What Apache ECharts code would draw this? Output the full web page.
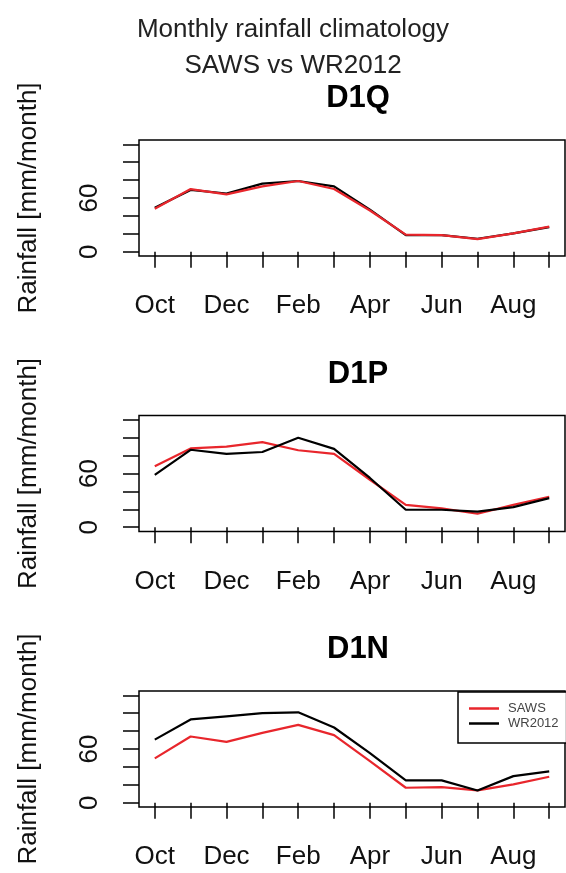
<!DOCTYPE html>
<html>
<head>
<meta charset="utf-8">
<script src="https://cdn.jsdelivr.net/npm/echarts@6/dist/echarts.min.js"></script>
<style>
html,body{margin:0;padding:0;background:#fff;}
#chart{width:566px;height:873px;}
</style>
</head>
<body>
<div id="chart"></div>
<script>
// ---- data ----
var months = ['Oct','Nov','Dec','Jan','Feb','Mar','Apr','May','Jun','Jul','Aug','Sep'];
var monthLabelIdx = [1,3,5,7,9,11];
var yTicks = [0,20,40,60,80,100,120];
var yLabels = [0,60];
var panelNames = ['D1Q','D1P','D1N'];

var sawsD1Q = [48, 70, 64, 73, 79, 70, 46, 19, 18.5, 14, 20.5, 28];
var wr2012D1Q = [49, 69, 65, 76, 79, 73, 47, 18.5, 18.5, 14.5, 20.5, 27.5];
var sawsD1P = [68, 88, 90, 95, 86, 82, 53, 25, 21, 15, 25, 34];
var wr2012D1P = [58.5, 86.5, 82, 84, 100, 87.5, 55, 19.5, 19.5, 17.5, 22.5, 32.5];
var sawsD1N = [49.5, 74, 68, 78, 87, 75.5, 46.5, 16.7, 17.4, 13.7, 20.4, 29];
var wr2012D1N = [70.5, 93, 96.5, 100, 101, 84, 55.5, 25, 25, 13.7, 29.7, 35];

var sawsAll = [sawsD1Q, sawsD1P, sawsD1N];
var wrAll = [wr2012D1Q, wr2012D1P, wr2012D1N];

// ---- layout ----
var font = "'Liberation Sans', Arial, Helvetica, sans-serif";
var gridTops = [140, 415.5, 691];
var gridLeft = 139, gridWidth = 426, gridHeight = 116;
var redCol = '#e8262c';

function pairs(arr){ return arr.map(function(v,i){ return [i+1, v]; }); }

var grids = [], xAxes = [], yAxes = [], series = [], titles = [];

titles.push({
  text: 'Monthly rainfall climatology\nSAWS vs WR2012',
  left: 288, top: 7, textAlign: 'center',
  textStyle: {fontFamily: font, fontSize: 26, fontWeight: 'normal', color: '#222', lineHeight: 36}
});

for (var p = 0; p < 3; p++) {
  grids.push({left: gridLeft, top: gridTops[p], width: gridWidth, height: gridHeight,
    show: true, borderColor: '#000', borderWidth: 1.5, backgroundColor: 'transparent'});
  titles.push({
    text: panelNames[p], left: 353, top: gridTops[p] - 62, textAlign: 'center',
    textStyle: {fontFamily: font, fontSize: 31, fontWeight: 'bold', color: '#000'}
  });
  xAxes.push({
    type: 'value', gridIndex: p, min: 0.56, max: 12.44,
    axisLine: {show: false},
    splitLine: {show: false},
    axisTick: {show: true, inside: false, length: 16, customValues: months.map(function(m,i){return i+1;}),
      lineStyle: {color: '#000', width: 1.5}},
    axisLabel: {show: true, margin: 37, customValues: monthLabelIdx,
      formatter: function(v){ return months[Math.round(v)-1]; },
      fontFamily: font, fontSize: 26, color: '#111'}
  });
  yAxes.push({
    type: 'value', gridIndex: p, min: -4.8, max: 124.8,
    axisLine: {show: false},
    splitLine: {show: false},
    axisTick: {show: true, inside: false, length: 16, customValues: yTicks,
      lineStyle: {color: '#000', width: 1.5}},
    axisLabel: {show: true, rotate: 90, margin: 36, customValues: yLabels,
      fontFamily: font, fontSize: 26, color: '#111'},
    name: 'Rainfall [mm/month]', nameLocation: 'middle', nameRotate: 90, nameGap: 97,
    nameTextStyle: {fontFamily: font, fontSize: 26, color: '#111'}
  });
  series.push({
    name: 'SAWS', type: 'line', xAxisIndex: p, yAxisIndex: p,
    data: pairs(sawsAll[p]), showSymbol: false, symbol: 'none',
    lineStyle: {color: redCol, width: 2.2}, itemStyle: {color: redCol}, z: 3
  });
  series.push({
    name: 'WR2012', type: 'line', xAxisIndex: p, yAxisIndex: p,
    data: pairs(wrAll[p]), showSymbol: false, symbol: 'none',
    lineStyle: {color: '#000', width: 2.2}, itemStyle: {color: '#000'}, z: (p === 0 ? 2 : 4)
  });
}

var chart = echarts.init(document.getElementById('chart'), null, {renderer: 'canvas'});
chart.setOption({
  animation: false,
  backgroundColor: '#fff',
  title: titles,
  grid: grids,
  xAxis: xAxes,
  yAxis: yAxes,
  legend: {
    data: ['SAWS','WR2012'],
    orient: 'vertical', left: 458, top: 692,
    backgroundColor: '#fff',
    borderColor: '#000', borderWidth: 1.5, borderRadius: 0,
    padding: [10, 8, 13, 11],
    itemGap: 2, itemWidth: 30, itemHeight: 2.5,
    icon: 'rect',
    textStyle: {fontFamily: font, fontSize: 13, color: '#444', padding: [0,0,0,4], lineHeight: 12}
  },
  series: series
});
</script>
</body>
</html>
